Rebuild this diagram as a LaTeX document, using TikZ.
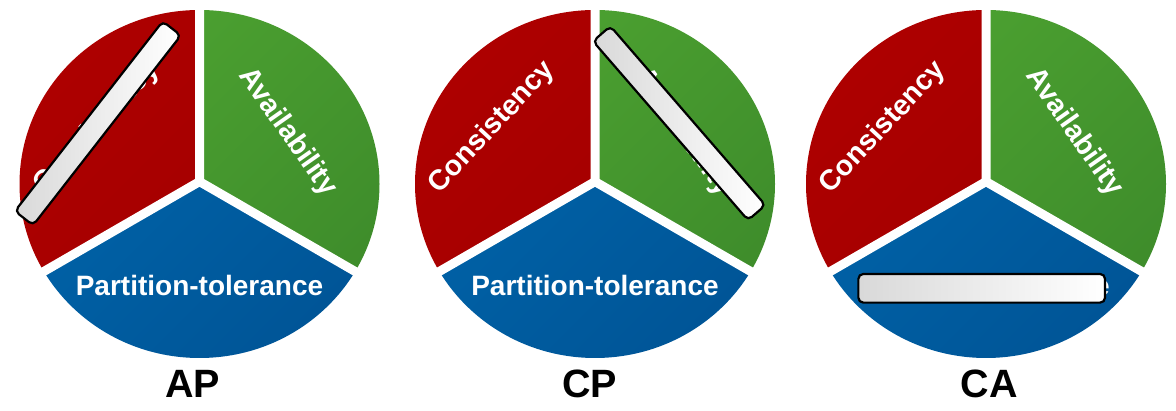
\documentclass[tikz,border=0pt]{standalone}
\usepackage{fontspec}
\setmainfont{Liberation Sans}
\definecolor{redA}{HTML}{AD0000}
\definecolor{redB}{HTML}{A00000}
\definecolor{greenA}{HTML}{4DA331}
\definecolor{greenB}{HTML}{3E8C2B}
\definecolor{blueA}{HTML}{0066AC}
\definecolor{blueB}{HTML}{005597}
\tikzset{
  lbl/.style={text=white, font=\fontsize{28}{30}\selectfont\bfseries, inner sep=0pt},
  rlbl/.style={text=white, font=\fontsize{28.5}{31}\selectfont\bfseries, inner sep=0pt},
  ttl/.style={text=black, font=\fontsize{39.5}{42}\selectfont\bfseries, inner sep=0pt, anchor=base},
  barbox/.style={draw=black, line width=2.2pt, rounded corners=5pt, inner sep=0pt,
    left color=black!15, right color=white},
  gapline/.style={draw=white, line width=9pt}
}
\newcommand\drawcappie[2]{%
  \coordinate (#2J) at (#1,229.4);
  \coordinate (#2O) at (#1,227);
  \begin{scope}
    \clip (#2J) -- ++(0,400) -- ++(-400,0) -- ++(0,-631) -- cycle;
    \shade[top color=redA, bottom color=redB, shading angle=45] (#2O) ellipse [x radius=180, y radius=174];
  \end{scope}
  \begin{scope}
    \clip (#2J) -- ++(0,400) -- ++(400,0) -- ++(0,-631) -- cycle;
    \shade[top color=greenA, bottom color=greenB, shading angle=45] (#2O) ellipse [x radius=180, y radius=174];
  \end{scope}
  \begin{scope}
    \clip (#2J) -- ++(-400,-231) -- ++(0,-200) -- ++(800,0) -- ++(0,200) -- cycle;
    \shade[top color=blueA, bottom color=blueB, shading angle=45] (#2O) ellipse [x radius=180, y radius=174];
  \end{scope}
  \path[gapline] (#2J) -- ++(90:250) (#2J) -- ++(210:250) (#2J) -- ++(330:250);
  \node[rlbl, rotate=47] (#2c) at (#1-102.7,283.5) {Consistency};
  \node[rlbl, rotate=-55] (#2a) at (#1+88,278.7) {Availability};
  \node[lbl, anchor=base] (#2p) at (#1,115) {Partition-tolerance};
}
\begin{document}
\begin{tikzpicture}[x=1pt,y=1pt]
  \useasboundingbox (0,0) rectangle (1176,411);
  \fill[white] (0,0) rectangle (1176,411);
  \drawcappie{199.5}{p1}
  \drawcappie{595}{p2}
  \drawcappie{986}{p3}
  \node[ttl] (tAP) at (192.5,13) {AP};
  \node[ttl] (tCP) at (589.5,13) {CP};
  \node[ttl] (tCA) at (989,13) {CA};
  \node[barbox, minimum width=240.6pt, minimum height=23pt, rotate=52.1] (bar1) at (97.9,287.7) {};
  \node[barbox, minimum width=236.8pt, minimum height=23pt, rotate=-49.1] (bar2) at (679.2,287.8) {};
  \node[barbox, minimum width=246.7pt, minimum height=28.7pt] (bar3) at (981.7,122.7) {};
\end{tikzpicture}
\end{document}
